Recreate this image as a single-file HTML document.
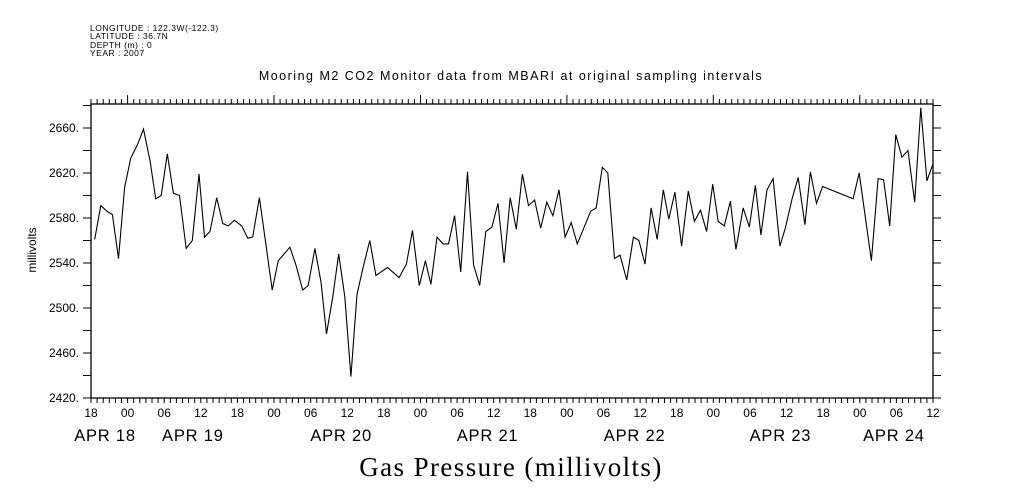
<!DOCTYPE html>
<html><head><meta charset="utf-8"><style>
body{margin:0;background:#fff;width:1009px;height:504px;overflow:hidden}
svg{display:block}
text{font-family:"Liberation Sans",sans-serif;fill:#000}
</style></head><body>
<svg id="chart" width="1009" height="504" viewBox="0 0 1009 504" xmlns="http://www.w3.org/2000/svg">
<g font-size="8.5" letter-spacing="0.5">
<text x="90" y="31">LONGITUDE : 122.3W(-122.3)</text>
<text x="90" y="39">LATITUDE : 36.7N</text>
<text x="90" y="48">DEPTH (m) : 0</text>
<text x="90" y="56">YEAR : 2007</text>
</g>
<text x="511" y="80" text-anchor="middle" font-size="12.5" letter-spacing="1.5">Mooring M2 CO2 Monitor data from MBARI at original sampling intervals</text>
<text transform="translate(36,250) rotate(-90)" text-anchor="middle" font-size="12">millivolts</text>
<text x="511" y="476" text-anchor="middle" font-size="27" letter-spacing="1.4" style="font-family:'Liberation Serif',serif">Gas Pressure (millivolts)</text>
<g id="axes"></g>
<g id="marks"></g>
</svg>
<script>
const hours = [0.6,1.6,2.6,3.5,4.5,5.5,6.5,7.6,8.6,9.7,10.6,11.5,12.5,13.5,14.5,15.6,16.6,17.7,18.6,19.5,20.6,21.6,22.5,23.5,24.7,25.7,26.5,27.6,28.6,29.7,30.7,32.6,33.6,34.7,35.6,36.7,37.7,38.6,39.6,40.6,41.6,42.6,43.6,44.6,45.7,46.7,48.6,50.5,51.7,52.7,53.8,54.8,55.7,56.7,57.7,58.6,59.6,60.6,61.7,62.7,63.7,64.7,65.7,66.7,67.7,68.7,69.7,70.7,71.7,72.7,73.7,74.7,75.7,76.7,77.7,78.7,79.7,81.9,82.8,83.8,84.7,85.8,86.7,87.8,88.9,89.8,90.8,91.8,92.8,93.8,94.7,95.7,96.8,97.9,98.9,99.9,100.9,101.9,102.8,103.8,104.8,105.7,106.9,107.9,108.9,109.8,110.8,111.8,112.9,113.8,114.9,115.9,117.0,117.9,118.9,119.9,124.9,125.9,127.9,129.0,129.9,130.9,131.9,132.9,133.9,135.0,136.0,137.0,138.0];
const values = [2561,2591,2586,2583,2544,2607,2633,2645,2659,2630,2597,2600,2637,2602,2600,2553,2560,2619,2563,2568,2598,2575,2573,2578,2573,2562,2563,2598,2559,2516,2542,2554,2538,2516,2520,2553,2523,2477,2509,2548,2510,2439,2512,2536,2560,2529,2536,2527,2539,2569,2520,2542,2521,2563,2557,2557,2582,2532,2621,2538,2520,2568,2572,2593,2540,2598,2570,2619,2591,2596,2571,2594,2582,2605,2563,2576,2557,2586,2589,2625,2620,2544,2547,2525,2563,2560,2539,2589,2561,2605,2579,2603,2555,2604,2577,2587,2568,2610,2577,2573,2595,2552,2589,2572,2609,2565,2605,2615,2555,2571,2597,2616,2574,2621,2593,2608,2597,2620,2542,2615,2614,2573,2654,2634,2640,2594,2678,2613,2628];
const yTickValues = [2420,2460,2500,2540,2580,2620,2660];
const hourLabels = ["18","00","06","12","18","00","06","12","18","00","06","12","18","00","06","12","18","00","06","12","18","00","06","12"];
const dateLabels = ["APR 18","APR 19","APR 20","APR 21","APR 22","APR 23","APR 24"];
const dateLabelHours = [2.3,16.7,41,65,89.1,113,131.6];

const L=91,R=933,T=104,B=398,H0=0,H1=138,V0=2420,V1=2681.3;
const xs=h=>L+(h-H0)/(H1-H0)*(R-L);
const ys=v=>B-(v-V0)/(V1-V0)*(B-T);
const NS="http://www.w3.org/2000/svg";
function mk(tag,attrs,parent){const e=document.createElementNS(NS,tag);for(const k in attrs)e.setAttribute(k,attrs[k]);parent.appendChild(e);return e;}
const ax=document.getElementById('axes'), mg=document.getElementById('marks');
let f=mk('rect',{x:L,y:T,width:R-L,height:B-T,fill:'none',stroke:'#000','stroke-width':1.3},ax);


let d='';
for(let h=0;h<=H1;h++){const x=xs(h).toFixed(1);const maj=(h%24)==6;d+=`M${x},${B}v5M${x},${T}v${maj?-9:-5}`;}
for(let v=V0;v<=2680;v+=20){const y=ys(v).toFixed(1);d+=`M${L},${y}h-8M${R},${y}h8`;}
let tk=mk('path',{d:d,stroke:'#000','stroke-width':1,fill:'none'},ax);


yTickValues.forEach(v=>{const t=mk('text',{x:79,y:ys(v)+4,'text-anchor':'end','font-size':12},ax);t.textContent=v+'.';

});
hourLabels.forEach((s,i)=>{const t=mk('text',{x:xs(i*6),y:417,'text-anchor':'middle','font-size':12},ax);t.textContent=s;

});
dateLabels.forEach((s,i)=>{const t=mk('text',{x:xs(dateLabelHours[i]),y:441,'text-anchor':'middle','font-size':16.5,'letter-spacing':0.8},ax);t.textContent=s;

});
const pts=hours.map((h,i)=>xs(h).toFixed(1)+','+ys(values[i]).toFixed(1)).join(' ');
const ln=mk('polyline',{points:pts,fill:'none',stroke:'#000','stroke-width':1.1},mg);


</script>
</body></html>
